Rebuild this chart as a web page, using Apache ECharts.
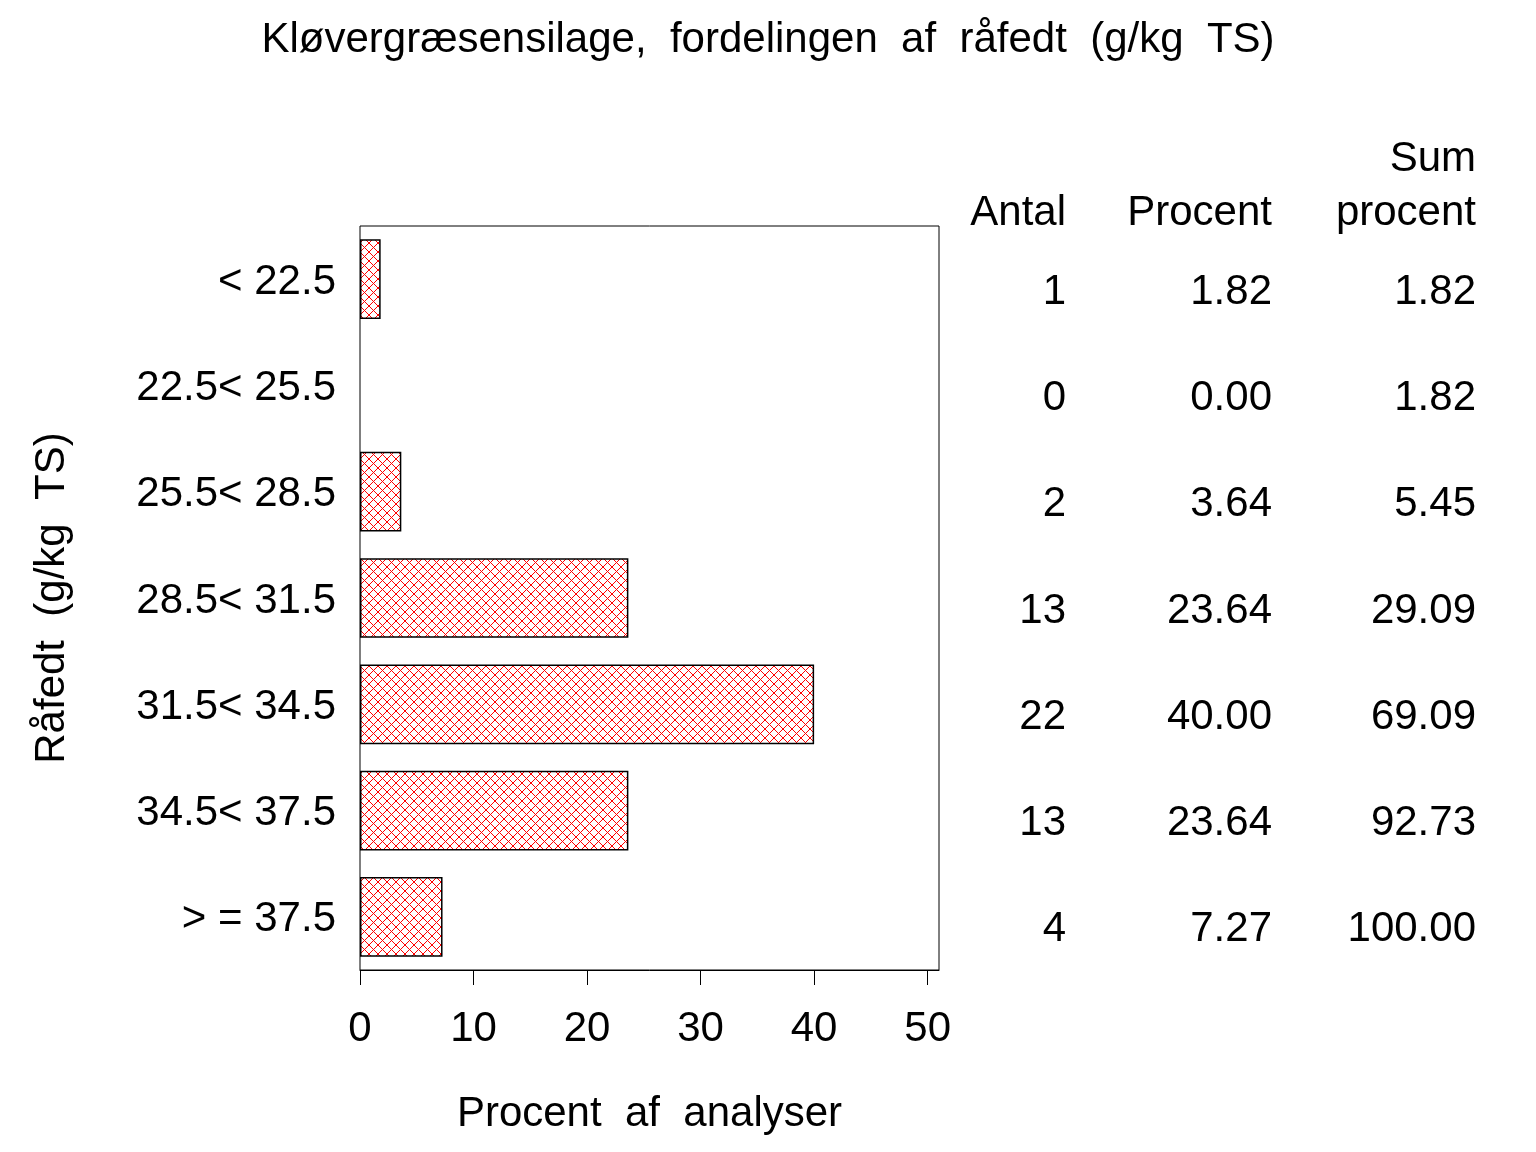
<!DOCTYPE html>
<html>
<head>
<meta charset="utf-8">
<script src="https://cdn.jsdelivr.net/npm/echarts@6/dist/echarts.min.js"></script>
<style>
	html, body { margin: 0; padding: 0; background: #fff; }
	#chart { width: 1536px; height: 1152px; }
</style>
</head>
<body>
<div id="chart"></div>
<script>
// Data
const categories = ['< 22.5', '22.5< 25.5', '25.5< 28.5', '28.5< 31.5', '31.5< 34.5', '34.5< 37.5', '> = 37.5'];
const antal = [1, 0, 2, 13, 22, 13, 4];
const procent = [1.82, 0.00, 3.64, 23.64, 40.00, 23.64, 7.27];
const sumProcent = [1.82, 1.82, 5.45, 29.09, 69.09, 92.73, 100.00];
const xTicks = [0, 10, 20, 30, 40, 50];

const FONT = '"Liberation Sans", Arial, sans-serif';

/* ---------- red crosshatch fill ---------- */
function createHatch() {
	const canvas = document.createElement('canvas');
	canvas.width = canvas.height = 9;
	const ctx = canvas.getContext('2d');
	ctx.fillStyle = '#fff';
	ctx.fillRect(0, 0, 9, 9);
	ctx.strokeStyle = '#ff0000';
	ctx.lineWidth = 1;
	ctx.beginPath();
	ctx.moveTo(0, 0); ctx.lineTo(9, 9);
	ctx.moveTo(0, 9); ctx.lineTo(9, 0);
	ctx.stroke();
	return { type: 'pattern', image: canvas, repeat: 'repeat' };
}

const el = document.getElementById('chart');
const chart = echarts.init(el);

const labelStyle = { color: '#000', fontFamily: FONT, fontSize: 42 };

// one invisible category axis per table column
// (top-aligned with a short line height, so rows sit ~13px below the bar centres)
function tableAxis(values, margin) {
	return {
		type: 'category',
		position: 'right',
		inverse: true,
		data: values,
		axisLine: { show: false },
		axisTick: { show: false },
		axisLabel: Object.assign({ align: 'right', margin: margin, verticalAlign: 'top', lineHeight: 26 }, labelStyle)
	};
}

const option = {
	animation: false,
	backgroundColor: '#fff',
	title: {
		text: 'Kløvergræsensilage,  fordelingen  af  råfedt  (g/kg  TS)',
		left: 'center',
		top: 14,
		textStyle: { color: '#000', fontFamily: FONT, fontSize: 42, fontWeight: 'normal' }
	},
	grid: {
		left: 360,
		top: 226,
		width: 579,
		height: 744,
		show: true,
		borderColor: '#000',
		borderWidth: 1
	},
	xAxis: {
		type: 'value',
		min: 0,
		max: 51,
		interval: 10,
		name: 'Procent  af  analyser',
		nameLocation: 'middle',
		nameGap: 123,
		nameTextStyle: labelStyle,
		splitLine: { show: false },
		axisLine: { show: true, lineStyle: { color: '#000', width: 1 } },
		axisTick: { show: true, length: 15, customValues: xTicks, lineStyle: { color: '#000' } },
		axisLabel: Object.assign({ margin: 38, customValues: xTicks }, labelStyle)
	},
	yAxis: [
		{
			type: 'category',
			inverse: true,
			data: categories,
			name: 'Råfedt  (g/kg  TS)',
			nameLocation: 'middle',
			nameGap: 287,
			nameTextStyle: labelStyle,
			axisLine: { show: false },
			axisTick: { show: false },
			axisLabel: Object.assign({ margin: 24, verticalAlign: 'top', lineHeight: 6 }, labelStyle)
		},
		tableAxis(antal.map(String), 127),
		tableAxis(procent.map(v => v.toFixed(2)), 333),
		tableAxis(sumProcent.map(v => v.toFixed(2)), 537)
	],
	series: [{
		type: 'bar',
		// an empty class draws no bar at all
		data: procent.map(v => (v === 0 ? '-' : v)),
		barCategoryGap: '25%',
		itemStyle: {
			color: createHatch(),
			borderColor: '#000',
			borderWidth: 1.5
		}
	}],
	graphic: [
		{ type: 'text', right: 1536 - 1066, top: 192, style: { text: 'Antal', fill: '#000', font: '42px ' + FONT } },
		{ type: 'text', right: 1536 - 1272, top: 192, style: { text: 'Procent', fill: '#000', font: '42px ' + FONT } },
		{ type: 'text', right: 1536 - 1476, top: 138, style: { text: 'Sum', fill: '#000', font: '42px ' + FONT } },
		{ type: 'text', right: 1536 - 1476, top: 192, style: { text: 'procent', fill: '#000', font: '42px ' + FONT } }
	]
};

chart.setOption(option);

window.addEventListener('resize', () => chart.resize());
</script>
</body>
</html>
